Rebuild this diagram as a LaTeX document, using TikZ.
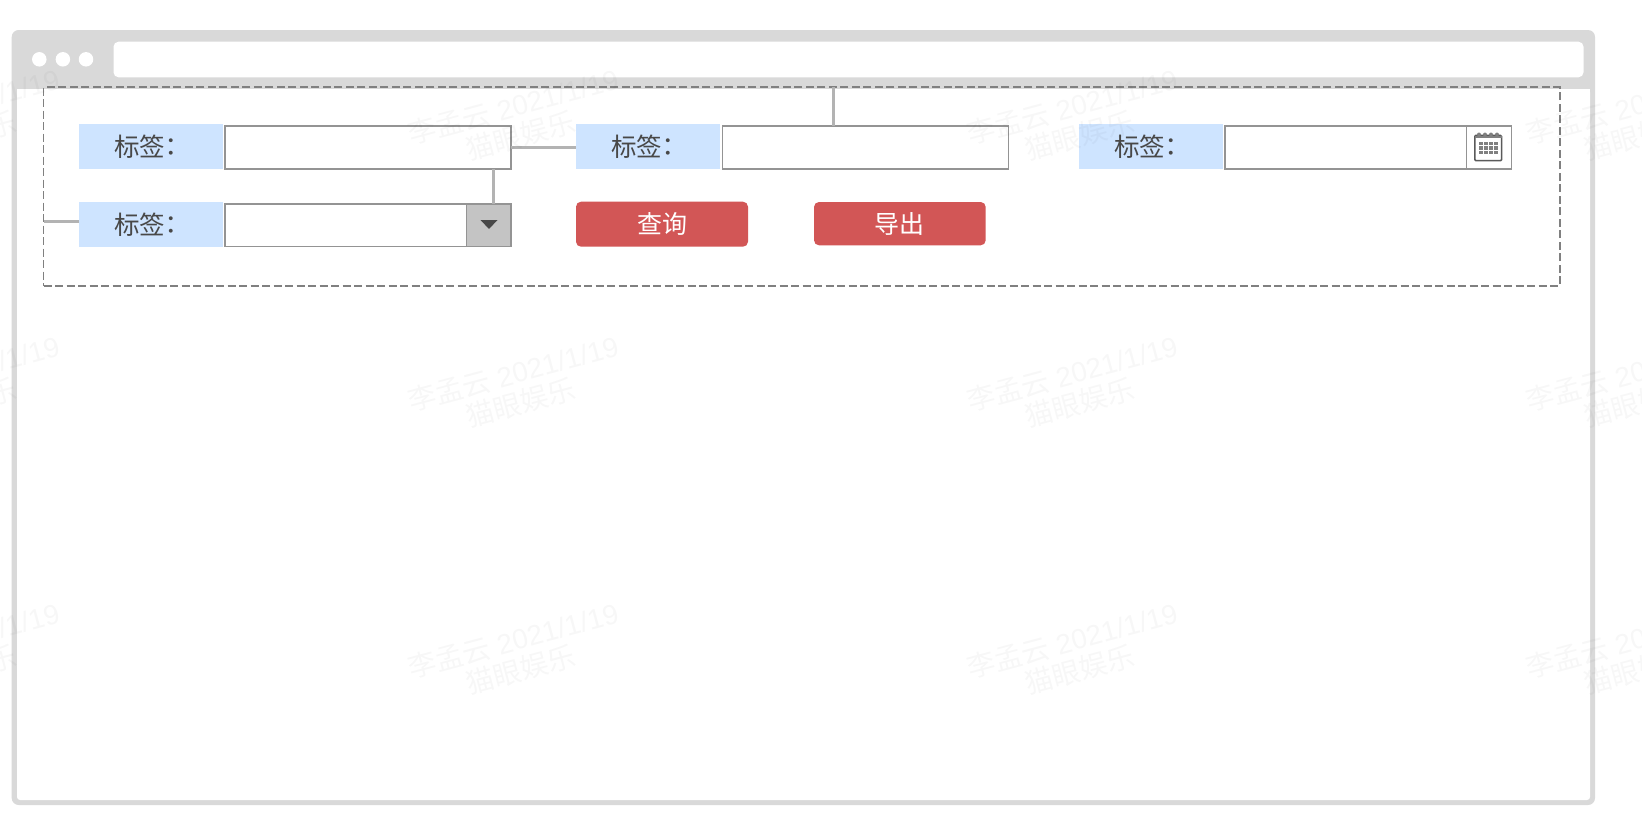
\documentclass[tikz,border=0pt]{standalone}
\usepackage{fontspec}
\setmainfont{Liberation Sans}
\newfontfamily\cjksc{Noto Sans CJK SC}
\newfontfamily\cjktc{Noto Sans CJK TC}
\newcommand{\labeltext}{\kern3pt\raisebox{-3pt}{{\cjksc 标签}\kern-6.5pt{\cjktc ：}\kern6.5pt}}
\definecolor{chrome}{HTML}{D9D9D9}
\definecolor{labelblue}{HTML}{CEE4FF}
\definecolor{fieldline}{HTML}{949494}
\definecolor{linkline}{HTML}{B3B3B3}
\definecolor{frameline}{HTML}{808080}
\definecolor{btnred}{HTML}{D25656}
\definecolor{darktext}{HTML}{484848}
\tikzset{
  box/.style={anchor=north west,inner sep=0pt,outer sep=0pt},
  labelbox/.style={box,fill=labelblue,minimum width=144pt,minimum height=45pt,text=darktext,font=\fontsize{25.5}{26}\selectfont},
  fieldbox/.style={box,draw=fieldline,fill=white,line width=1.8pt,minimum height=42.7pt},
  redbtn/.style={box,fill=btnred,rounded corners=5pt,text=white,font=\cjksc\fontsize{25}{26}\selectfont},
  linkpath/.style={draw=linkline,line width=3pt},
  dot/.style={circle,fill=white,minimum size=14.5pt,inner sep=0pt},
  mark text/.style={rotate=15,align=center,text opacity=0.03,text=black,font=\fontsize{28}{30}\selectfont,inner sep=0pt},
}
\begin{document}
\begin{tikzpicture}[x=1pt,y=-1pt]
\useasboundingbox (0,0) rectangle (1642,838);
\fill[white] (0,0) rectangle (1642,838);
% window
\fill[chrome,rounded corners=7pt] (11.7,30) rectangle (1595,805);
\fill[white,rounded corners=3pt] (17,89.3) -- (1590,89.3) -- (1590,800) -- (17,800) -- cycle;
\fill[white] (17,89.3) rectangle (1590,95);
\node[box,fill=white,rounded corners=5pt,minimum width=1470pt,minimum height=35.6pt] (addr) at (113.5,41.7) {};
\node[dot] (d1) at (39.3,59.3) {};
\node[dot] (d2) at (62.9,59.3) {};
\node[dot] (d3) at (86,59.3) {};
% search frame
\node[box,draw=frameline,line width=1.7pt,dash pattern=on 8pt off 3.5pt,minimum width=1516.4pt,minimum height=198.4pt] (frame) at (43.6,87.3) {};
% row 1
\node[labelbox] (lab1) at (79,124.3) {\labeltext};
\node[fieldbox,minimum width=285.9pt] (in1) at (225.1,126.2) {};
\node[labelbox] (lab2) at (576,124.3) {\labeltext};
\node[fieldbox,minimum width=285.9pt] (in2) at (722.5,126.2) {};
\node[labelbox,minimum width=144.7pt] (lab3) at (1078.6,124.3) {\labeltext};
\node[fieldbox,minimum width=286.2pt] (in3) at (1225.2,126.2) {};
\draw[fieldline,line width=1.8pt] (1466.5,126.2) -- (1466.5,168.9);
% calendar icon
\draw[darktext!90,line width=1.6pt,rounded corners=1pt] (1474.8,135.5) rectangle (1501.6,160.6);
\fill[frameline] (1474.8,135.5) rectangle (1501.6,138);
\foreach \x in {1479,1485,1491,1497} \fill[frameline] (\x,134.5) circle (2pt);
\foreach \x in {1481,1486,1491,1496}
  \foreach \y in {143.5,148,152.5}
    \fill[frameline] (\x-1.8,\y-1.6) rectangle (\x+1.8,\y+1.6);
% row 2
\node[labelbox] (lab4) at (79,202) {\labeltext};
\node[fieldbox,minimum width=285.9pt] (in4) at (225.1,203.7) {};
\node[box,draw=fieldline,fill=fieldline!55,line width=1.8pt,minimum width=44.6pt,minimum height=42.7pt] (drop) at (466.4,203.7) {};
\fill[darktext] (480.5,220) -- (497.5,220) -- (489,229) -- cycle;
\node[redbtn,minimum width=172pt,minimum height=45pt] (query) at (576,201.7) {\raisebox{-1pt}{查询}};
\node[redbtn,minimum width=171.7pt,minimum height=43.3pt] (export) at (814,202) {导出};
% connectors
\draw[linkpath] (in1.east) -- (in1.east -| lab2.west);
\draw[linkpath] ([xshift=4.7pt]drop.north) -- ([xshift=4.7pt]drop.north |- in1.south);
\draw[linkpath] ([xshift=-31.7pt]in2.north) -- ([xshift=-31.7pt]in2.north |- frame.north);
\draw[linkpath] ([yshift=3pt]lab4.west) -- ([yshift=3pt]lab4.west -| frame.west);
% watermarks
\begin{scope}
\clip (0,0) rectangle (1642,838);
\foreach \i/\cx in {0/-42,1/517,2/1076,3/1635}
  \foreach \j/\cy in {0/121,1/388,2/655}
    \node[mark text] (wm\i\j) at (\cx,\cy) {{\cjksc 李孟云} 2021/1/19\\{\cjksc 猫眼娱乐}};
\end{scope}
\end{tikzpicture}
\end{document}
